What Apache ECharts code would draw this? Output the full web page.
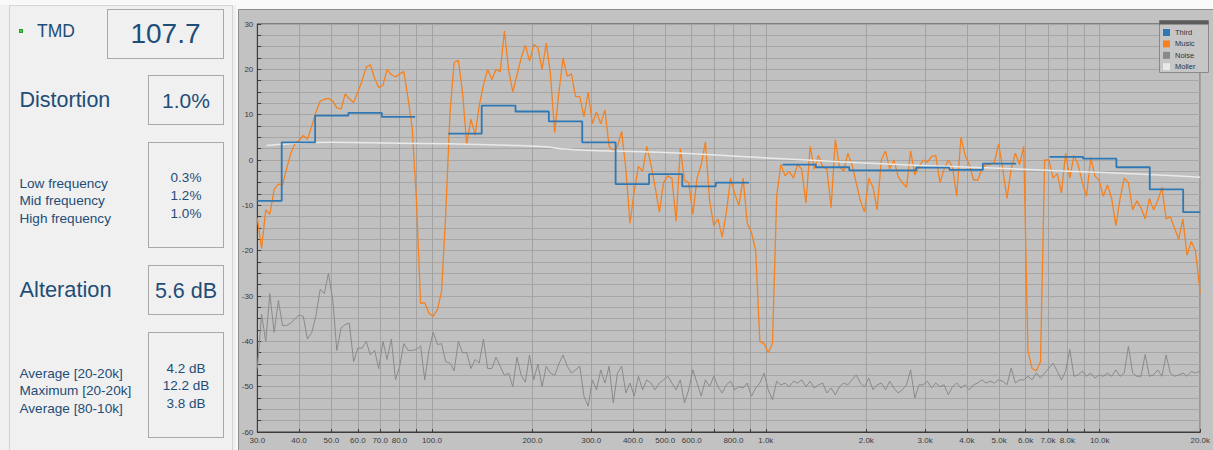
<!DOCTYPE html>
<html><head><meta charset="utf-8">
<script src="https://cdn.jsdelivr.net/npm/echarts@6/dist/echarts.min.js"></script>
<style>
html,body{margin:0;padding:0;width:1213px;height:450px;overflow:hidden;background:#f9f9f9;font-family:"Liberation Sans",Arial,sans-serif;}
#chart{position:absolute;left:0;top:0;width:1213px;height:450px;}
#left{position:absolute;left:0;top:5px;width:236px;height:445px;background:#f0f0f0;}
#leftBorder{position:absolute;left:9px;top:0;width:224px;height:445px;border-left:1px solid #d4d4d4;border-top:1px solid #d4d4d4;border-right:1px solid #d4d4d4;box-sizing:border-box;}
.box{position:absolute;box-sizing:border-box;border:1px solid #a8a8a8;}
.t{position:absolute;white-space:nowrap;color:#1e4d77;}
.led{position:absolute;left:19px;top:23.5px;width:4px;height:4px;background:#3fd13c;border:0.5px solid #2a9a2a;box-sizing:border-box;}
</style>
</head><body>
<div id="chart"></div>
<div id="left">
  <div id="leftBorder"></div>
  <div class="led"></div>
  <div class="box" style="left:107px;top:4px;width:117px;height:50px"></div>
  <div class="box" style="left:148px;top:70px;width:76px;height:50px"></div>
  <div class="box" style="left:148px;top:137px;width:76px;height:106px"></div>
  <div class="box" style="left:148px;top:260px;width:76px;height:50px"></div>
  <div class="box" style="left:148px;top:327px;width:76px;height:106px"></div>
</div>
<div id="texts"></div>
<script>
// ---- left panel metrics ----
const headLabels = ["TMD", "Distortion", "Alteration"];
const headValues = ["107.7", "1.0%", "5.6 dB"];
const distLabels = ["Low frequency", "Mid frequency", "High frequency"];
const distValues = ["0.3%", "1.2%", "1.0%"];
const altLabels = ["Average [20-20k]", "Maximum [20-20k]", "Average [80-10k]"];
const altValues = ["4.2 dB", "12.2 dB", "3.8 dB"];

// ---- chart data ----
const freq = [
30.0,30.9,31.8,32.7,33.7,34.7,35.7,36.7,37.8,38.9,40.0,41.2,42.4,43.7,44.9,46.3,47.6,49.0,50.5,51.9,53.5,55.0,56.6,58.3,
60.0,61.8,63.6,65.4,67.4,69.3,71.4,73.4,75.6,77.8,80.1,82.4,84.9,87.3,89.9,92.5,95.2,98.0,100.9,103.9,106.9,110.0,113.3,116.6,
120,123.5,127.1,130.9,134.7,138.6,142.7,146.9,151.2,155.6,160.2,164.9,169.7,174.7,179.8,185.1,190.5,196.1,201.8,207.7,213.8,220.1,226.5,233.2,
240,247.0,254.3,261.7,269.4,277.3,285.4,293.8,302.4,311.2,320.4,329.8,339.4,349.4,359.6,370.1,381.0,392.1,403.6,415.5,427.6,440.2,453.0,466.3,
480,494.1,508.6,523.4,538.8,554.6,570.8,587.6,604.8,622.5,640.7,659.5,678.8,698.7,719.2,740.3,762.0,784.3,807.3,830.9,855.3,880.3,906.1,932.7,
960,988,1017,1047,1078,1109,1142,1175,1210,1245,1281,1319,1358,1397,1438,1481,1524,1569,1615,1662,1711,1761,1812,1865,
1920,1976,2034,2094,2155,2218,2283,2350,2419,2490,2563,2638,2715,2795,2877,2961,3048,3137,3229,3324,3421,3521,3624,3731,
3840,3953,4069,4188,4310,4437,4567,4701,4838,4980,5126,5276,5431,5590,5753,5922,6096,6274,6458,6648,6842,7043,7249,7462,
7680,7905,8137,8375,8621,8874,9133,9401,9676,9960,10251,10552,10861,11180,11507,11844,12191,12549,12917,13295,13685,14086,14498,14923,
15360,15810,16274,16750,17242,17747,18266,18802,19353,20000];

const musicDb = [
-12.8,-19.5,-11,-12,-6.5,-5.3,-5.5,-2,1.5,3.6,4.3,5.4,4.6,7.5,10.5,13,13.4,13.6,13.0,11.5,11.3,14.6,13.5,12.7,
15.0,17.5,20.5,21,18,16,16.5,20,18.8,18.3,19,19.5,13.5,7,-8.8,-31.6,-31.5,-33.8,-34.5,-33,-29,-12,10.4,21.5,
22,15,3.5,9,5.5,12,16.5,20,17.7,20,19.5,28.5,20,15,18.7,22.5,25.3,21.8,25.5,24.8,20,25.8,19,6,
14.8,22.5,18.5,19,14,14,9.5,15,8,10.6,8,11,3,2,3,6.3,-2.1,-14,-6.9,-1.4,-2.5,3,-1,-6,
-11.5,-5,-3.5,-4,-13.5,2.5,-4.5,-5,-12,-4,-1,4,-9,-14.5,-13,-17,-11.5,-4,-7.5,-10,-4,-14,-16,-20,
-40,-40.5,-42.5,-40.5,-8,-1,-3.5,-2.5,-4,-1,-2,-9.5,3,-2,1,-1.5,-2,-10.5,4.5,-1.5,-2.5,1.5,-1,-5,
-9,-11.5,-4,-6,-11,0,2,-2,0,-3.6,-5,-6,2,-3.3,-1.5,0,-0.5,0.8,1,-5,-2,0,-1.5,-8,
5,1,-1,-4.3,-4.5,-2,-1,-1,-0.5,3.5,-2,-8.5,-2,1.5,-1,3,-42,-46,-46.5,-44.5,0,0,-4,-3,
-7.3,1.5,-4,1,-1,-5,-8,0.5,-3.5,-4.5,-8,-5.5,-8.5,-14.5,-8.5,-4,-5,-11,-9,-10.5,-13,-8.5,-11,-9,
-6,-13,-12.5,-15,-17.5,-13,-21,-18,-20,-29.3];

const noiseDb = [
-46,-34,-40,-29.5,-38,-31,-36.5,-36.5,-36,-35,-34.2,-34.5,-39.5,-38,-34.5,-28.5,-29.5,-25,-31,-42,-37,-36.3,-36,-44.5,
-41.5,-41.5,-40,-43,-42,-46,-40,-44,-39.5,-48.5,-45.5,-40.5,-42,-42,-41.8,-41,-48.5,-42,-38,-40.7,-40.5,-44.5,-44.8,-46.5,
-40,-42.5,-42.5,-46,-44,-44.8,-39.5,-46,-46,-43.5,-45.5,-47.5,-47,-50,-43.5,-47.5,-49,-43,-48.5,-45,-50,-45.5,-47,-47.5,
-45,-43,-45.5,-47,-46.3,-45.5,-52.1,-54.3,-48.5,-50.7,-46.3,-49.2,-45.5,-53.6,-47,-45.5,-51.4,-49.2,-52.1,-47.7,-50.7,-48.5,-49.2,-50.7,
-49.2,-48.5,-47.7,-49.2,-50.7,-48.5,-53.6,-50.7,-46.3,-49.2,-52.1,-48.5,-50,-47.7,-50,-51.4,-49.6,-48.8,-50.7,-50,-50.3,-49.2,-52.1,-50.3,
-49.2,-47,-50.7,-52.9,-48.8,-49.6,-49.2,-50,-48.8,-49.2,-48.5,-50,-48.8,-50.3,-49.6,-49.2,-51.4,-50.3,-51.8,-50,-49.2,-49.6,-48.5,-47.4,
-49.2,-50,-48.1,-50.7,-49.6,-49.2,-50.7,-48.8,-50.3,-51.4,-50.7,-49.6,-46.3,-52.5,-49.6,-49.6,-48.8,-50.3,-49.2,-50,-49.6,-51.8,-50,-49.2,
-50.3,-49.6,-50.7,-49.6,-49.2,-48.5,-49.2,-48.8,-49.2,-48.5,-48.8,-49.6,-45.9,-49.2,-48.5,-48.5,-47.7,-48.5,-47,-48.1,-47,-45.9,-44.8,-46.6,
-48.5,-46.6,-41.8,-47.7,-47.4,-46.6,-47.7,-47,-48.1,-47.4,-47.7,-47,-47.7,-46.3,-47.7,-47,-41.1,-47,-47.7,-47.7,-42.9,-47.7,-47.4,-46.3,
-47.7,-43,-47,-47.7,-47.4,-47,-47.7,-46.6,-47,-46.6];

// third-octave band edges and levels (null = no band value)
const thirdEdges = [30,35.5,44.7,56.2,70.8,89.1,112,141,178,224,282,355,447,562,708,891,1122,1413,1778,2239,2818,3548,4467,5623,7079,8913,11220,14125,17783,20000];
const thirdDb = [-9,3.9,9.8,10.4,9.5,null,5.8,12,10.7,8.5,3.9,-5.3,-3.1,-5.8,-5.0,null,-1.0,-1.6,-2.3,-2.3,-1.7,-2.2,-0.8,null,0.7,0.3,-1.6,-6.5,-11.5];

const mollerFreq = [32,37.5,50,80,112,180,220,250,300,480,930,1900,3800,7700,15000,20000];
const mollerDb = [3.2,3.6,3.9,3.7,3.6,3.2,2.9,2.4,2.1,1.7,0.6,-0.6,-1.5,-2.4,-3.3,-3.8];

const xTickValues = [30,40,50,60,70,80,90,100,200,300,400,500,600,700,800,900,1000,2000,3000,4000,5000,6000,7000,8000,9000,10000,20000];
const xLabelValues = [30,40,50,60,70,80,100,200,300,400,500,600,800,1000,2000,3000,4000,5000,6000,7000,8000,10000,20000];
const legendNames = ["Third","Music","Noise","Moller"];
const colors = {Third:"#2f78b3", Music:"#f5821f", Noise:"#8a8a8a", Moller:"#e9e9e9"};

// ---- left panel text ----
(function(){
  const host = document.getElementById('texts');
  function put(txt, size, cx, cy, align){
    const d = document.createElement('div');
    d.className = 't';
    d.textContent = txt;
    const lh = Math.round(size*1.4);
    d.style.fontSize = size+'px';
    d.style.lineHeight = lh+'px';
    d.style.height = lh+'px';
    d.style.top = (cy - lh/2)+'px';
    if (align === 'center') { d.style.left = (cx-60)+'px'; d.style.width='120px'; d.style.textAlign='center'; }
    else { d.style.left = cx+'px'; }
    host.appendChild(d);
  }
  put(headLabels[0], 17.5, 37, 31.2, 'left');
  put(headValues[0], 28, 165.5, 33.5, 'center');
  put(headLabels[1], 21.5, 19.5, 99.5, 'left');
  put(headValues[1], 21, 186, 100.5, 'center');
  const dy1=[183,200.7,218], dv1=[177.7,195.6,213.3];
  distLabels.forEach((s,i)=>put(s,13.6,19.5,dy1[i],'left'));
  distValues.forEach((s,i)=>put(s,13.5,186,dv1[i],'center'));
  put(headLabels[2], 21.8, 19.5, 289.5, 'left');
  put(headValues[2], 21.5, 186, 291, 'center');
  const dy2=[373,390.5,408], dv2=[368,385.8,403.7];
  altLabels.forEach((s,i)=>put(s,13.6,19.5,dy2[i],'left'));
  altValues.forEach((s,i)=>put(s,13.5,186,dv2[i],'center'));
})();

// ---- chart ----
function pairs(xs, ys){ return xs.map((x,i)=>[x, ys[i]]); }
function thirdSteps(){
  const d=[];
  for(let i=0;i<thirdDb.length;i++){
    const v=thirdDb[i];
    if(v===null){ d.push([thirdEdges[i],'-']); continue; }
    d.push([thirdEdges[i], v]);
    d.push([thirdEdges[i+1], v]);
  }
  return d;
}
function fmtFreq(v){ return v>=1000 ? (v/1000).toFixed(1)+'k' : Number(v).toFixed(1); }

const chart = echarts.init(document.getElementById('chart'), null, {renderer:'svg', width:1213, height:450});
chart.setOption({
  animation:false,
  backgroundColor:'transparent',
  graphic:[
    {type:'rect', silent:true, z:-10, shape:{x:238.5,y:9.5,width:980,height:450}, style:{fill:'#c2c2c2', stroke:'#8e8e8e', lineWidth:1}},
    {type:'rect', silent:true, z:100, shape:{x:1159.5,y:20.5,width:49,height:52}, style:{fill:'#c6c6c6', stroke:'#8a8a8a', lineWidth:1}},
    {type:'rect', silent:true, z:101, shape:{x:1159.5,y:20.5,width:49,height:4}, style:{fill:'#5c5c5c'}}
  ],
  grid:{left:257.3, right:11.5, top:24, bottom:18, show:true, backgroundColor:'#c0c0c0', borderColor:'#3c3c3c', borderWidth:1},
  legend:{
    z:102, orient:'vertical', left:1163, top:28.5, padding:0, itemGap:3.4, itemWidth:7, itemHeight:7,
    icon:'rect', textStyle:{fontSize:7.5, color:'#333'},
    data:legendNames.map(n=>({name:n, itemStyle:{color:colors[n]}}))
  },
  xAxis:{
    type:'log', logBase:10, min:30, max:20000,
    axisLine:{show:true, onZero:false, lineStyle:{color:'#3c3c3c'}},
    axisTick:{show:true, inside:true, length:3, customValues:xTickValues, lineStyle:{color:'#3c3c3c'}},
    axisLabel:{customValues:xLabelValues, formatter:fmtFreq, fontSize:8, color:'#3a3a3a', margin:4, showMinLabel:true, showMaxLabel:true, hideOverlap:false},
    splitLine:{show:true, lineStyle:{color:'#a2a2a2', width:1}}
  },
  yAxis:{
    type:'value', min:-60, max:30, interval:10,
    axisLine:{show:true, onZero:false, lineStyle:{color:'#3c3c3c'}},
    axisTick:{show:true, inside:true, length:4, lineStyle:{color:'#3c3c3c'}},
    minorTick:{show:true, splitNumber:4, length:4, lineStyle:{color:'#3c3c3c'}},
    axisLabel:{fontSize:8, color:'#3a3a3a', margin:4},
    splitLine:{show:true, lineStyle:{color:'#a6a6a6', width:1}},
    minorSplitLine:{show:true, lineStyle:{color:'#a6a6a6', width:1}}
  },
  series:[
    {name:'Noise', type:'line', data:pairs(freq, noiseDb), showSymbol:false, symbol:'none', lineStyle:{color:colors.Noise, width:1}, itemStyle:{color:colors.Noise}, z:2},
    {name:'Music', type:'line', data:pairs(freq, musicDb), showSymbol:false, symbol:'none', lineStyle:{color:colors.Music, width:1.3}, itemStyle:{color:colors.Music}, z:3},
    {name:'Moller', type:'line', data:pairs(mollerFreq, mollerDb), smooth:true, showSymbol:false, symbol:'none', lineStyle:{color:colors.Moller, width:1.5}, itemStyle:{color:colors.Moller}, z:4},
    {name:'Third', type:'line', data:thirdSteps(), connectNulls:false, showSymbol:false, symbol:'none', lineStyle:{color:colors.Third, width:1.8}, itemStyle:{color:colors.Third}, z:5}
  ]
});
</script>
</body></html>
